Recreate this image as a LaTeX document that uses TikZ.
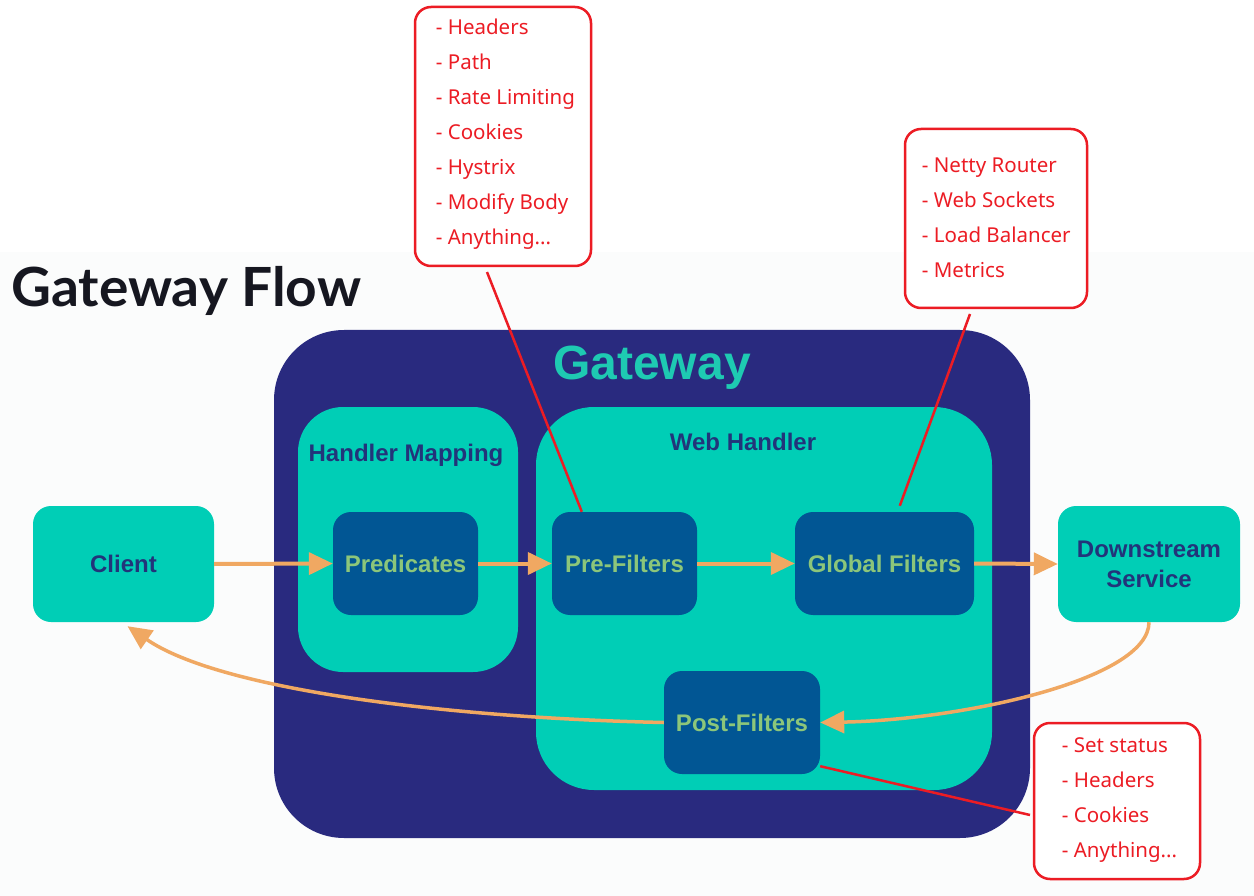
\documentclass[tikz,border=0pt]{standalone}
\usepackage{fontspec}
\setmainfont{Liberation Sans}
\newfontfamily\redfont{Noto Sans}
\newfontfamily\titlefont{Lato}
\usetikzlibrary{arrows.meta,calc}
\definecolor{gwnavy}{RGB}{41,42,127}
\definecolor{teal}{RGB}{0,206,182}
\definecolor{inblue}{RGB}{1,86,148}
\definecolor{ingreen}{RGB}{140,198,122}
\definecolor{navytext}{RGB}{34,52,122}
\definecolor{flowor}{RGB}{240,168,98}
\definecolor{callred}{RGB}{236,28,36}
\definecolor{gwtext}{RGB}{30,202,178}
\definecolor{titletext}{RGB}{22,23,32}
\definecolor{bgtint}{RGB}{251,252,252}
\tikzset{
  gwbox/.style={fill=gwnavy, rounded corners=70pt, inner sep=0pt},
  tealbox/.style={fill=teal, rounded corners=45pt, inner sep=0pt},
  innerbox/.style={fill=inblue, rounded corners=18pt, inner sep=0pt, minimum width=145pt, minimum height=103pt,
    text=ingreen, font=\fontsize{24}{28}\selectfont\bfseries},
  endbox/.style={fill=teal, rounded corners=18pt, inner sep=0pt, minimum width=181pt, minimum height=116pt,
    text=navytext, font=\fontsize{24}{30}\selectfont\bfseries, align=center},
  boxlabel/.style={text=navytext, font=\fontsize{24}{28}\selectfont\bfseries, inner sep=0pt},
  callbox/.style={draw=callred, line width=2.5pt, fill=white, rounded corners=16pt, inner sep=0pt},
  calltext/.style={text=callred, font=\redfont\fontsize{20.5}{35}\selectfont, align=left, inner sep=0pt, anchor=north west},
  flow/.style={draw=flowor, line width=4pt, -{Triangle[length=24pt,width=22pt]}},
  redline/.style={draw=callred, line width=2.5pt},
}
\begin{document}
\begin{tikzpicture}[x=1pt,y=-1pt]
\useasboundingbox (0,0) rectangle (1254,896);
\fill[white] (0,0) rectangle (1254,896);
\fill[bgtint] (0,252) rectangle (1254,896);

\node[anchor=base west, text=titletext, font=\titlefont\fontsize{54}{60}\selectfont\bfseries, inner sep=0pt, xscale=1.02] (title) at (11,306) {Gateway Flow};

\node[gwbox, minimum width=756pt, minimum height=508pt] (gw) at (652,584) {};
\node[text=gwtext, font=\fontsize{48}{54}\selectfont\bfseries, inner sep=0pt] (gwlabel) at (652,368) {Gateway};

\node[tealbox, minimum width=220pt, minimum height=265pt] (hm) at (408,539.5) {};
\node[boxlabel] (hmlabel) at (406,455) {Handler Mapping};
\node[tealbox, rounded corners=58pt, minimum width=456pt, minimum height=383pt] (wh) at (764,598.5) {};
\node[boxlabel] (whlabel) at (743,442) {Web Handler};

\node[innerbox] (pred) at (405.5,563.5) {Predicates};
\node[innerbox] (pre) at (624.5,563.5) {Pre-Filters};
\node[innerbox, minimum width=179pt] (glob) at (884.5,563.5) {Global Filters};
\node[innerbox, minimum width=156pt] (post) at (742,722.5) {Post-Filters};

\node[endbox] (client) at (123.5,564) {Client};
\node[endbox, minimum width=182pt] (down) at (1149,564) {Downstream\\Service};

\draw[flow] (client.east) -- (pred.west);
\draw[flow] (pred.east) -- (pre.west);
\draw[flow] (pre.east) -- (glob.west);
\draw[flow] (glob.east) -- (down.west);
\draw[flow, line width=3.5pt] (down.south) .. controls (1149,680) and (960,720) .. (post.east);
\draw[flow, line width=3.5pt] (post.west) .. controls (450,718) and (220,690) .. ($(client.south)+(4,4)$);

% callouts
\node[callbox, minimum width=176pt, minimum height=259pt] (b1) at (503,136.5) {};
\node[calltext] (t1) at ($(b1.north west)+(22,13)$) {- Headers\\- Path\\- Rate Limiting\\- Cookies\\- Hystrix\\- Modify Body\\- Anything...};
\node[callbox, minimum width=182pt, minimum height=179pt] (b2) at (996,218.5) {};
\node[calltext] (t2) at ($(b2.north west)+(18,30)$) {- Netty Router\\- Web Sockets\\- Load Balancer\\- Metrics};
\node[callbox, minimum width=166pt, minimum height=156pt] (b3) at (1117,801) {};
\node[calltext] (t3) at ($(b3.north west)+(29,16)$) {- Set status\\- Headers\\- Cookies\\- Anything...};

\coordinate (c1) at (487,272);
\coordinate (c2) at (970,314);
\coordinate (c3) at (1030,815);
\draw[redline] (c1) -- ($(pre.north west)+(30,0)$);
\draw[redline] (c2) -- ($(glob.north west)+(105,-6)$);
\draw[redline] ($(post.south east)+(0,-8)$) -- (c3);
\end{tikzpicture}
\end{document}
